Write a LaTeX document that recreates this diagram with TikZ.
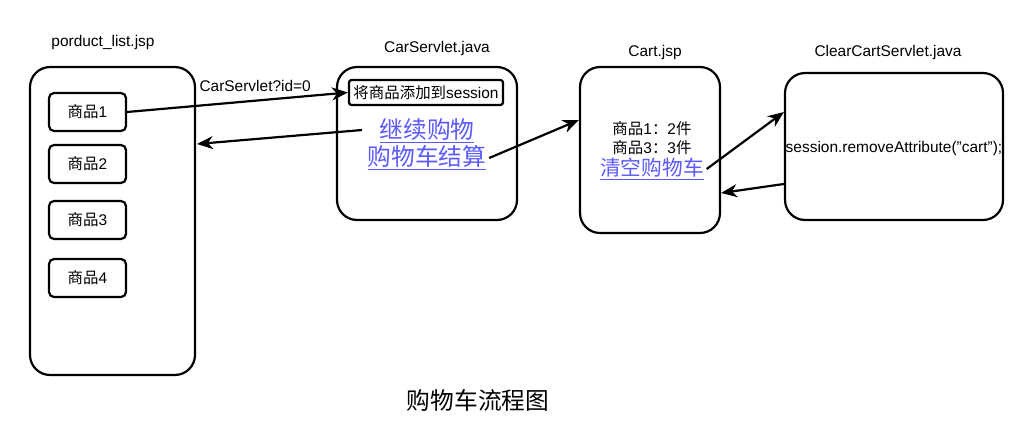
\documentclass[tikz,border=0pt]{standalone}
\usepackage{fontspec}
\setmainfont{Liberation Sans}
\newfontfamily\cjk{Noto Sans CJK SC}
\usetikzlibrary{arrows.meta,positioning}
\definecolor{linkblue}{RGB}{90,90,255}

\begin{document}
\begin{tikzpicture}[%
    x=0.02cm, y=-0.02cm,        % one unit is one pixel of the sketch
    >={Stealth[length=3.2mm,width=2.6mm,inset=1mm]},
    every path/.style={line width=1.25pt},
    ]
% -------------------------------------------------
% Box and text styles
\tikzset{
  page/.style={draw, rectangle, rounded corners=0.4cm, line width=1.25pt},
  item/.style={draw, rectangle, rounded corners=0.1cm, line width=1.25pt,
    minimum width=1.54cm, minimum height=0.76cm},
  small/.style={font=\fontsize{8.8}{10.4}\selectfont, inner sep=1pt},
  link/.style={font=\fontsize{13.5}{16}\selectfont, text=linkblue, inner sep=1pt},
  conn/.style={->, draw}
}
\useasboundingbox (0,0) rectangle (1018,420);
% -------------------------------------------------
% The four pages
\node [page, minimum width=3.3cm, minimum height=6.16cm] (products) at (112.5,221) {};
\node [page, minimum width=3.6cm, minimum height=3.06cm] (servlet) at (427,143.5) {};
\node [page, minimum width=2.8cm, minimum height=3.32cm] (cart) at (650,150) {};
\node [page, minimum width=4.36cm, minimum height=2.94cm] (clear) at (894,146.5) {};

\node [small] (productstitle) at (103,42) {porduct\_list.jsp};
\node [small] (servlettitle) at (437,48) {CarServlet.java};
\node [small] (carttitle) at (655,52) {Cart.jsp};
\node [small] (cleartitle) at (888,52) {ClearCartServlet.java};

% Items of the product list
\foreach \i/\y in {1/112, 2/164, 3/220, 4/278}
  \node [item, small] (item\i) at (87.5,\y) {{\cjk 商品}\i};

% Inside CarServlet.java
\node [draw, rectangle, rounded corners=0.05cm, line width=1.25pt, small,
  minimum width=3.08cm, minimum height=0.5cm] (addsess) at (426,92.5)
  {{\cjk 将商品添加到}session};
\node [link] (goon) at (427,131) {\cjk\underline{继续购物}};
\node [link] (checkout) at (427,158) {\cjk\underline{购物车结算}};

% Inside Cart.jsp
\node [small] (line1) at (652,129) {{\cjk 商品}1{\cjk ：}2{\cjk 件}};
\node [small] (line2) at (652,148) {{\cjk 商品}3{\cjk ：}3{\cjk 件}};
\node [link, font=\fontsize{11.8}{14}\selectfont] (clearlink) at (652,169) {\cjk\underline{清空购物车}};

% Inside ClearCartServlet.java
\node [small] (remove) at (894,148) {session.removeAttribute("cart");};

% Caption
\node [font=\fontsize{13.5}{16}\selectfont] (caption) at (478,400) {\cjk 购物车流程图};

% -------------------------------------------------
% Connectors
\coordinate (backstart) at (362,130);
\coordinate (backend) at (197,144);
\draw [conn] (item1.east) -- node [small, pos=0.58, above=1.3mm] {CarServlet?id=0} (addsess.west);
\draw [conn] (backstart) -- (backend);
\draw [conn] (checkout.east) -- ([yshift=0.6cm]cart.west);
\draw [conn] (clearlink.east) -- ([yshift=0.69cm]clear.west);
\draw [conn] ([yshift=-0.75cm]clear.west) -- ([yshift=-0.86cm]cart.east);
% -------------------------------------------------
\end{tikzpicture}
\end{document}
